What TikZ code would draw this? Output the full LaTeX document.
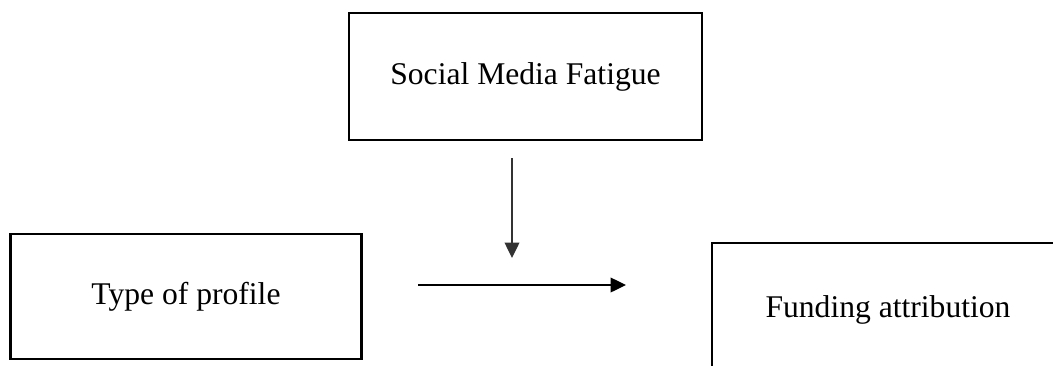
\documentclass[tikz,border=0pt]{standalone}
\usepackage{fontspec}
\setmainfont{Liberation Serif}
\usetikzlibrary{arrows.meta}
\begin{document}
\begin{tikzpicture}[x=0.75pt,y=-0.75pt,
  box/.style={draw=black, line width=2.1pt, minimum width=#1, inner sep=0pt, font=\fontsize{23.7}{28}\selectfont},
  conn/.style={line width=1pt, -{Triangle[length=11.5pt,width=11pt]}}]
\useasboundingbox (0,0) rectangle (1053,365);
\clip (0,0) rectangle (1053,365);
\node[box=353*0.75pt, minimum height=127*0.75pt, text depth=0pt, text height=0pt] (smf) at (525.5,76.5) {\raisebox{-2.2ex}{}\smash{\raisebox{-0.55ex}{Social Media Fatigue}}};
\node[box=351*0.75pt, minimum height=125*0.75pt] (top) at (186,296.5) {Type of profile};
\node[box=352*0.75pt, minimum height=134*0.75pt] (fa) at (888,310) {Funding attribution};
\coordinate (v1) at (512,158);
\coordinate (v2) at (512,258);
\coordinate (h1) at (418,285);
\coordinate (h2) at (626,285);
\draw[conn, black!80] (v1) -- (v2);
\draw[conn] (h1) -- (h2);
\end{tikzpicture}
\end{document}
